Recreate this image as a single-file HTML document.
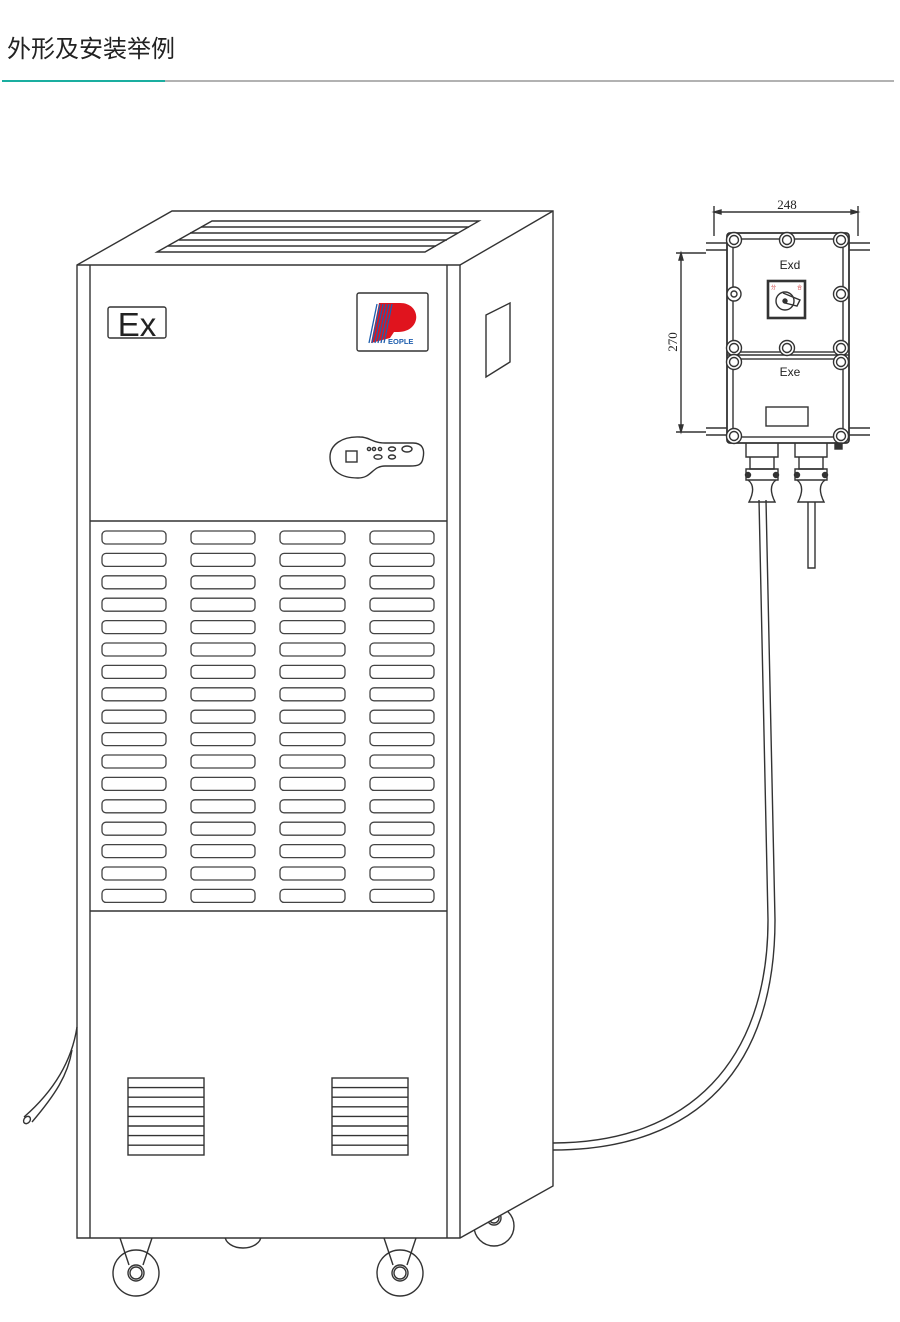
<!DOCTYPE html>
<html><head><meta charset="utf-8"><style>
body{margin:0;background:#fff;}
svg{display:block}
</style></head><body>
<svg width="900" height="1322" viewBox="0 0 900 1322" xmlns="http://www.w3.org/2000/svg">
<text x="7" y="57" font-family="'Liberation Sans','Noto Sans CJK SC',sans-serif" font-size="24" fill="#222">外形及安装举例</text>
<line x1="2" y1="81" x2="894" y2="81" stroke="#999" stroke-width="1.5"/>
<line x1="2" y1="81" x2="165" y2="81" stroke="#1aaea0" stroke-width="2"/>

<g fill="none" stroke="#333" stroke-width="1.4">
<!-- wheels behind body -->
<circle cx="494" cy="1226" r="20"/>
<circle cx="494" cy="1218" r="7"/><circle cx="494" cy="1218" r="5"/>
<ellipse cx="243" cy="1236" rx="18" ry="12"/>
<!-- body -->
<polygon points="77,265 172,211 553,211 553,1186 460,1238 77,1238" fill="#fff"/>
<line x1="77" y1="265" x2="460" y2="265"/>
<line x1="460" y1="265" x2="553" y2="211"/>
<line x1="460" y1="265" x2="460" y2="1238"/>
<line x1="90" y1="265" x2="90" y2="1238"/>
<line x1="447" y1="265" x2="447" y2="1238"/>
<line x1="90" y1="521" x2="447" y2="521"/>
<line x1="90" y1="911" x2="447" y2="911"/>
<!-- top vent -->
<polygon points="157,252 212,221 479,221 425,252"/>
<line x1="201" y1="227" x2="469" y2="227"/>
<line x1="190" y1="233" x2="458" y2="233"/>
<line x1="179" y1="240" x2="447" y2="240"/>
<line x1="168" y1="246" x2="436" y2="246"/>
<!-- side window -->
<polygon points="486,315 510,303 510,362 486,377"/>
<!-- Ex -->
<rect x="108" y="307" width="58" height="31" rx="2"/>
<!-- logo -->
<rect x="357" y="293" width="71" height="58" rx="2"/>
<!-- control panel -->
<path d="M360,437 C370,437 372,443 385,443 L413,443 C422,443 425,449 423,458 C422,465 418,466 410,466 L385,466 C372,466 372,478 358,478 C340,478 330,470 330,457 C330,445 342,436 360,437 Z"/>
<rect x="346" y="451" width="11" height="11"/>
<circle cx="369" cy="449" r="1.6"/><circle cx="374" cy="449" r="1.6"/><circle cx="380" cy="449" r="1.6"/>
<ellipse cx="392" cy="449" rx="3.5" ry="2"/><ellipse cx="407" cy="449" rx="5" ry="3"/>
<ellipse cx="378" cy="457" rx="4" ry="2.2"/><ellipse cx="392" cy="457" rx="3.5" ry="2"/>
<!-- lower vents -->
<rect x="128" y="1078" width="76" height="77"/>
<rect x="332" y="1078" width="76" height="77"/>
<path d="M128,1087.6H204M128,1097.2H204M128,1106.8H204M128,1116.4H204M128,1126H204M128,1135.6H204M128,1145.2H204"/>
<path d="M332,1087.6H408M332,1097.2H408M332,1106.8H408M332,1116.4H408M332,1126H408M332,1135.6H408M332,1145.2H408"/>
<!-- casters -->
<path d="M120,1238 L129,1265 M152,1238 L143,1265"/>
<circle cx="136" cy="1273" r="23"/><circle cx="136" cy="1273" r="8"/><circle cx="136" cy="1273" r="6"/>
<path d="M384,1238 L393,1265 M416,1238 L407,1265"/>
<circle cx="400" cy="1273" r="23"/><circle cx="400" cy="1273" r="8"/><circle cx="400" cy="1273" r="6"/>
<!-- left hose -->
<path d="M77,1027 C72,1060 55,1090 24,1117"/>
<path d="M72,1050 C68,1075 55,1095 32,1122"/>
<ellipse cx="27" cy="1120" rx="3" ry="4" transform="rotate(40 27 1120)"/>
<!-- cable -->
<path d="M553,1143 C690,1143 768,1060 768,920 L759,500"/>
<path d="M553,1150 C700,1150 775,1065 775,920 L766,500"/>
</g>

<text x="137" y="336" text-anchor="middle" font-family="'Liberation Sans',sans-serif" font-size="33" fill="#222">Ex</text>
<g>
<path d="M371,343 L379,303 L400,303 C422,303 422,332 398,332 L394,332 L390,338 L371,343 Z" fill="#e0141e"/>
<path d="M369,343 L377,304 M372,343 L380,304 M375,343 L383,304 M378,343 L386,304 M381,343 L389,304 M384,343 L392,304" stroke="#1f5fae" stroke-width="1.3"/>
<text x="388" y="344" font-family="'Liberation Sans',sans-serif" font-size="7.5" font-weight="bold" fill="#1f5fae">EOPLE</text>
</g>

<!-- junction box -->
<g fill="none" stroke="#333" stroke-width="1.4">
<line x1="714" y1="206" x2="714" y2="236"/><line x1="858" y1="206" x2="858" y2="236"/>
<line x1="714" y1="212" x2="858" y2="212"/>
<path d="M714,212 l7,-2 v4 z M858,212 l-7,-2 v4z" fill="#333"/>
<line x1="676" y1="253" x2="706" y2="253"/><line x1="676" y1="432" x2="706" y2="432"/>
<line x1="681" y1="253" x2="681" y2="432"/>
<path d="M681,253 l-2,7 h4z M681,432 l-2,-7 h4z" fill="#333"/>
<path d="M706,243h21M706,250h21M706,428h21M706,435h21M849,243h21M849,250h21M849,428h21M849,435h21"/>
<rect x="727" y="233" width="122" height="210" rx="3" fill="#fff" stroke-width="1.8"/>
<rect x="733" y="239" width="110" height="113"/>
<rect x="733" y="359" width="110" height="78"/>
<line x1="727" y1="355" x2="849" y2="355"/>
<rect x="766" y="407" width="42" height="19"/>
<rect x="768" y="281" width="37" height="37" stroke-width="2.6"/>
<circle cx="785" cy="301" r="9"/><circle cx="785" cy="301" r="2" fill="#333"/>
<path d="M783,293 L800,300 L797,306 L785,303"/>
<g stroke-width="1.4" fill="#fff">
<circle cx="734" cy="240" r="7.5"/><circle cx="787" cy="240" r="7.5"/><circle cx="841" cy="240" r="7.5"/>
<circle cx="734" cy="294" r="7"/><circle cx="841" cy="294" r="7.5"/>
<circle cx="734" cy="348" r="7.5"/><circle cx="787" cy="348" r="7.5"/><circle cx="841" cy="348" r="7.5"/>
<circle cx="734" cy="362" r="7.5"/><circle cx="841" cy="362" r="7.5"/>
<circle cx="734" cy="436" r="7.5"/><circle cx="841" cy="436" r="7.5"/>
</g>
<g stroke-width="1.4">
<circle cx="734" cy="240" r="4.5"/><circle cx="787" cy="240" r="4.5"/><circle cx="841" cy="240" r="4.5"/>
<circle cx="734" cy="294" r="3"/><circle cx="841" cy="294" r="4.5"/>
<circle cx="734" cy="348" r="4.5"/><circle cx="787" cy="348" r="4.5"/><circle cx="841" cy="348" r="4.5"/>
<circle cx="734" cy="362" r="4.5"/><circle cx="841" cy="362" r="4.5"/>
<circle cx="734" cy="436" r="4.5"/><circle cx="841" cy="436" r="4.5"/>
</g>
<rect x="835" y="443" width="7" height="6" fill="#333"/>
<!-- glands -->
<path d="M746,443 v14 h32 v-14 M795,443 v14 h32 v-14"/>
<path d="M750,457 v12 h24 v-12 M799,457 v12 h24 v-12"/>
<path d="M746,469 h32 v11 h-32z M795,469 h32 v11 h-32z"/>
<circle cx="748" cy="475" r="2.5" fill="#333"/><circle cx="776" cy="475" r="2.5" fill="#333"/>
<circle cx="797" cy="475" r="2.5" fill="#333"/><circle cx="825" cy="475" r="2.5" fill="#333"/>
<path d="M748,480 C756,486 752,496 749,502 h26 c-3,-6 -7,-16 1,-22 M797,480 C805,486 801,496 798,502 h26 c-3,-6 -7,-16 1,-22"/>
<path d="M808,502 L808,568 L815,568 L815,502"/>
</g>
<text x="790" y="269" text-anchor="middle" font-family="'Liberation Sans',sans-serif" font-size="12" fill="#222">Exd</text>
<text x="790" y="376" text-anchor="middle" font-family="'Liberation Sans',sans-serif" font-size="12" fill="#222">Exe</text>
<text x="787" y="209" text-anchor="middle" font-family="'Liberation Serif',serif" font-size="13" fill="#222">248</text>
<text x="677" y="342" text-anchor="middle" font-family="'Liberation Serif',serif" font-size="13" fill="#222" transform="rotate(-90 677 342)">270</text>
<text x="771" y="289" font-family="'Noto Sans CJK SC',sans-serif" font-size="5" fill="#c33">分</text>
<text x="797" y="289" font-family="'Noto Sans CJK SC',sans-serif" font-size="5" fill="#c33">合</text>

<g fill="none" stroke="#444" stroke-width="1.3">
<rect x="102" y="531" width="64" height="13" rx="4"/><rect x="191" y="531" width="64" height="13" rx="4"/><rect x="280" y="531" width="65" height="13" rx="4"/><rect x="370" y="531" width="64" height="13" rx="4"/>
<rect x="102" y="553.4" width="64" height="13" rx="4"/><rect x="191" y="553.4" width="64" height="13" rx="4"/><rect x="280" y="553.4" width="65" height="13" rx="4"/><rect x="370" y="553.4" width="64" height="13" rx="4"/>
<rect x="102" y="575.8" width="64" height="13" rx="4"/><rect x="191" y="575.8" width="64" height="13" rx="4"/><rect x="280" y="575.8" width="65" height="13" rx="4"/><rect x="370" y="575.8" width="64" height="13" rx="4"/>
<rect x="102" y="598.2" width="64" height="13" rx="4"/><rect x="191" y="598.2" width="64" height="13" rx="4"/><rect x="280" y="598.2" width="65" height="13" rx="4"/><rect x="370" y="598.2" width="64" height="13" rx="4"/>
<rect x="102" y="620.6" width="64" height="13" rx="4"/><rect x="191" y="620.6" width="64" height="13" rx="4"/><rect x="280" y="620.6" width="65" height="13" rx="4"/><rect x="370" y="620.6" width="64" height="13" rx="4"/>
<rect x="102" y="643" width="64" height="13" rx="4"/><rect x="191" y="643" width="64" height="13" rx="4"/><rect x="280" y="643" width="65" height="13" rx="4"/><rect x="370" y="643" width="64" height="13" rx="4"/>
<rect x="102" y="665.4" width="64" height="13" rx="4"/><rect x="191" y="665.4" width="64" height="13" rx="4"/><rect x="280" y="665.4" width="65" height="13" rx="4"/><rect x="370" y="665.4" width="64" height="13" rx="4"/>
<rect x="102" y="687.8" width="64" height="13" rx="4"/><rect x="191" y="687.8" width="64" height="13" rx="4"/><rect x="280" y="687.8" width="65" height="13" rx="4"/><rect x="370" y="687.8" width="64" height="13" rx="4"/>
<rect x="102" y="710.2" width="64" height="13" rx="4"/><rect x="191" y="710.2" width="64" height="13" rx="4"/><rect x="280" y="710.2" width="65" height="13" rx="4"/><rect x="370" y="710.2" width="64" height="13" rx="4"/>
<rect x="102" y="732.6" width="64" height="13" rx="4"/><rect x="191" y="732.6" width="64" height="13" rx="4"/><rect x="280" y="732.6" width="65" height="13" rx="4"/><rect x="370" y="732.6" width="64" height="13" rx="4"/>
<rect x="102" y="755" width="64" height="13" rx="4"/><rect x="191" y="755" width="64" height="13" rx="4"/><rect x="280" y="755" width="65" height="13" rx="4"/><rect x="370" y="755" width="64" height="13" rx="4"/>
<rect x="102" y="777.4" width="64" height="13" rx="4"/><rect x="191" y="777.4" width="64" height="13" rx="4"/><rect x="280" y="777.4" width="65" height="13" rx="4"/><rect x="370" y="777.4" width="64" height="13" rx="4"/>
<rect x="102" y="799.8" width="64" height="13" rx="4"/><rect x="191" y="799.8" width="64" height="13" rx="4"/><rect x="280" y="799.8" width="65" height="13" rx="4"/><rect x="370" y="799.8" width="64" height="13" rx="4"/>
<rect x="102" y="822.2" width="64" height="13" rx="4"/><rect x="191" y="822.2" width="64" height="13" rx="4"/><rect x="280" y="822.2" width="65" height="13" rx="4"/><rect x="370" y="822.2" width="64" height="13" rx="4"/>
<rect x="102" y="844.6" width="64" height="13" rx="4"/><rect x="191" y="844.6" width="64" height="13" rx="4"/><rect x="280" y="844.6" width="65" height="13" rx="4"/><rect x="370" y="844.6" width="64" height="13" rx="4"/>
<rect x="102" y="867" width="64" height="13" rx="4"/><rect x="191" y="867" width="64" height="13" rx="4"/><rect x="280" y="867" width="65" height="13" rx="4"/><rect x="370" y="867" width="64" height="13" rx="4"/>
<rect x="102" y="889.4" width="64" height="13" rx="4"/><rect x="191" y="889.4" width="64" height="13" rx="4"/><rect x="280" y="889.4" width="65" height="13" rx="4"/><rect x="370" y="889.4" width="64" height="13" rx="4"/>
</g>
</svg>
</body></html>
